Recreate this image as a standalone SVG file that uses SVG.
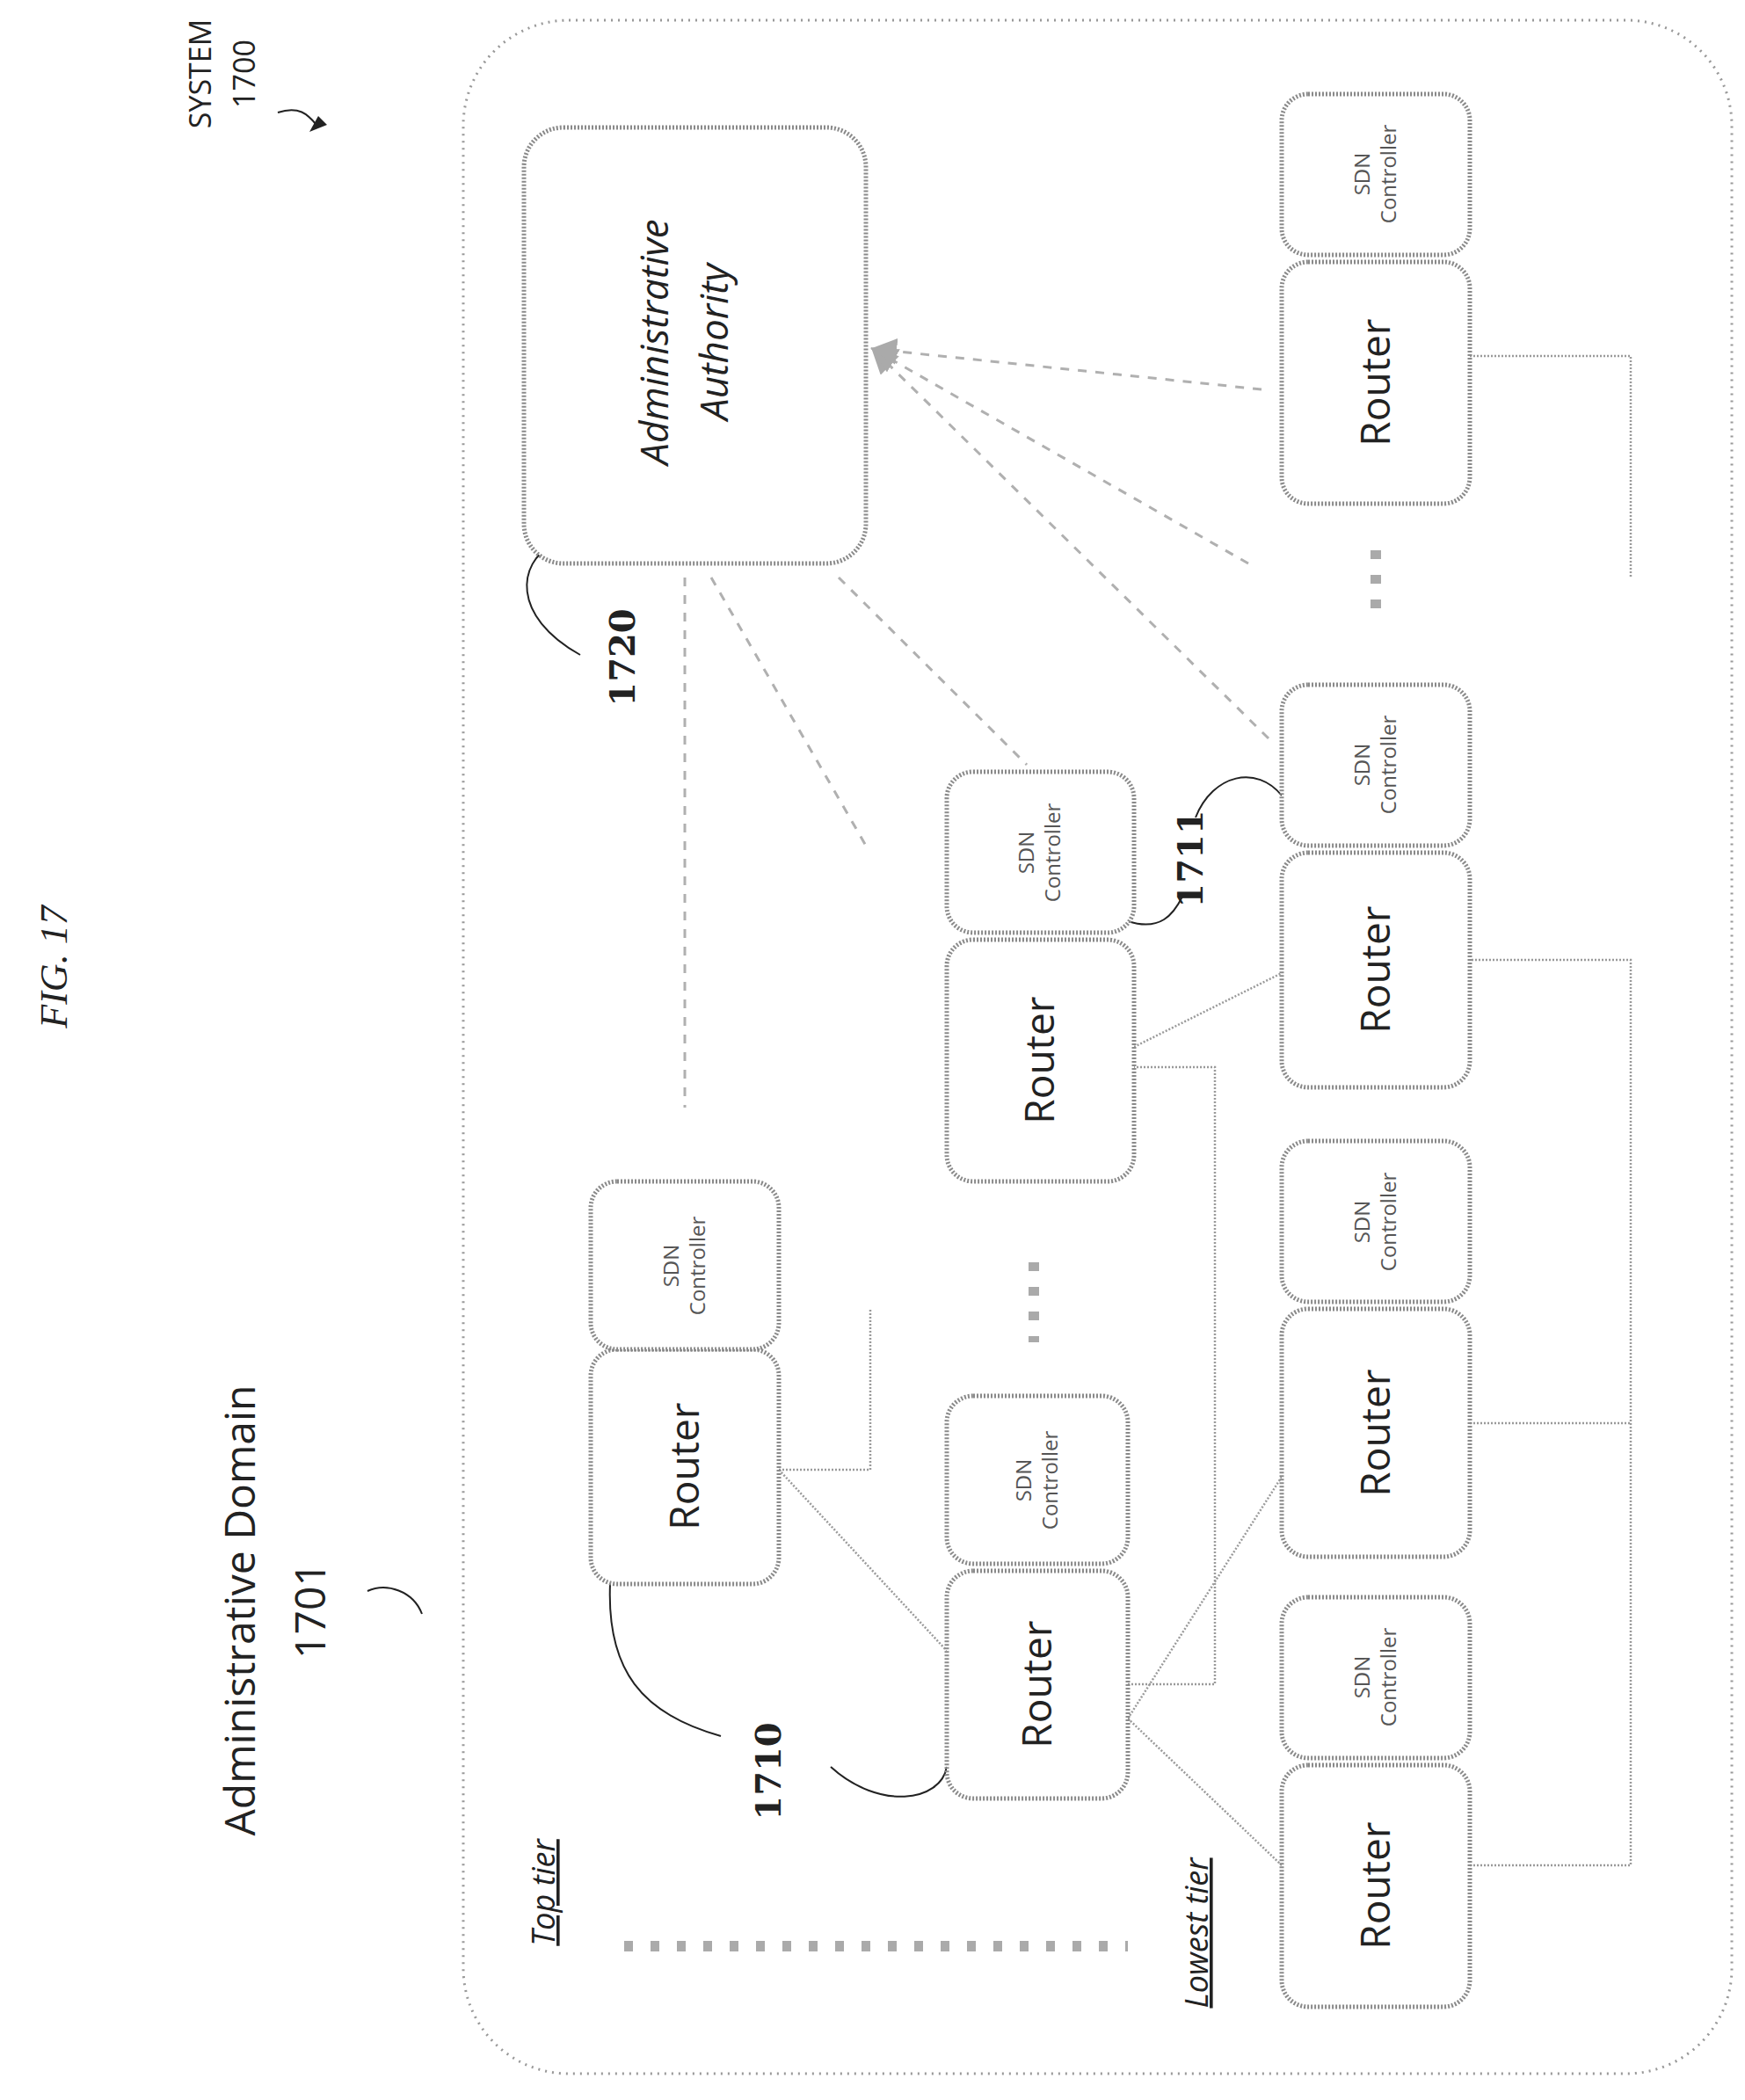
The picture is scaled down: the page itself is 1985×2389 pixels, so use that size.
<svg xmlns="http://www.w3.org/2000/svg" width="1985" height="2389" viewBox="0 0 1985 2389">
<style>
.box{fill:#fff;stroke:#8a8a8a;stroke-width:5;stroke-dasharray:2 2}
.ln{fill:none;stroke:#9a9a9a;stroke-width:2.5;stroke-dasharray:2 2}
.dl{fill:none;stroke:#b0b0b0;stroke-width:3;stroke-dasharray:10 10}
.ld{fill:none;stroke:#222;stroke-width:2}
.t{font-family:"Open Sans","DejaVu Sans",sans-serif;fill:#222;text-anchor:middle}
.r{font-size:46px}
.s{font-size:24px;fill:#555}
.n{font-family:"DejaVu Serif",serif;font-size:40px;font-weight:bold;fill:#222;text-anchor:middle}
</style>
<defs><marker id="ah" markerWidth="10" markerHeight="10" refX="9" refY="5" orient="auto"><path d="M0,0 L10,5 L0,10 z" fill="#aaa"/></marker></defs>
<rect x="527" y="23" width="1443" height="2336" rx="120" fill="none" stroke="#999" stroke-width="3" stroke-dasharray="2 6"/>
<g id="labels">
<text class="t" transform="translate(76,1100) rotate(-90)" style="font-family:'Liberation Serif',serif;font-style:italic;font-size:44px">FIG. 17</text>
<text class="t" transform="translate(240,84) rotate(-90)" font-size="34">SYSTEM</text>
<text class="t" transform="translate(290,84) rotate(-90)" font-size="34">1700</text>
<path class="ld" d="M316,128 C340,120 350,130 360,142"/><path d="M352,150 L372,142 L362,132 z" fill="#222"/>
<text class="t" transform="translate(290,1832) rotate(-90)" font-size="48">Administrative Domain</text>
<text class="t" transform="translate(370,1832) rotate(-90)" font-size="48">1701</text>
<path class="ld" d="M418,1810 C440,1800 470,1810 480,1836"/>
<text class="t" transform="translate(631,2153) rotate(-90)" style="font-style:italic;text-decoration:underline" font-size="36">Top tier</text>
<text class="t" transform="translate(1374,2199) rotate(-90)" style="font-style:italic;text-decoration:underline" font-size="36">Lowest tier</text>
<text class="n" transform="translate(722,748) rotate(-90)">1720</text>
<path class="ld" d="M628,620 C590,640 580,700 660,745"/>
<text class="n" transform="translate(1368,977) rotate(-90)">1711</text>
<path class="ld" d="M1283,1048 C1320,1060 1335,1040 1345,1020"/>
<path class="ld" d="M1360,930 C1380,880 1430,870 1458,905"/>
<text class="n" transform="translate(888,2015) rotate(-90)">1710</text>
<path class="ld" d="M694,1802 C690,1900 730,1950 820,1975"/>
<path class="ld" d="M1077,2010 C1070,2050 1000,2060 945,2010"/>
</g>
<g id="connectors">
<path class="ln" d="M886,1672 H990 V1489"/>
<path class="ln" d="M886,1672 L1077,1878"/>
<path class="ln" d="M1283,1955 L1458,2122"/>
<path class="ln" d="M1283,1955 L1458,1680"/>
<path class="ln" d="M1283,1916 H1382 V1214 H1290"/>
<path class="ln" d="M1290,1191 L1458,1107"/>
<path class="ln" d="M1672,2122 H1855 V1092 H1672"/>
<path class="ln" d="M1672,1619 H1855"/>
<path class="ln" d="M1672,405 H1855 V657"/>
<path class="dl" d="M779,657 V1260"/>
<path class="dl" d="M809,657 L985,962"/>
<path class="dl" d="M954,657 L1168,870"/>
<path class="dl" d="M1443,840 L993,397" marker-end="url(#ah)"/>
<path class="dl" d="M1420,641 L993,397" marker-end="url(#ah)"/>
<path class="dl" d="M1435,443 L993,397" marker-end="url(#ah)"/>
<path d="M1176,1436 V1527" stroke="#aaa" stroke-width="12" stroke-dasharray="10 18"/>
<path d="M1565,626 V702" stroke="#aaa" stroke-width="12" stroke-dasharray="10 18"/>
<path d="M710,2214 H1283" stroke="#aaa" stroke-width="12" stroke-dasharray="10 20"/>
</g>
<g id="admin-authority"><rect class="box" x="596" y="145" width="389" height="496" rx="45"/>
<text class="t" transform="translate(760,389) rotate(-90)" style="font-style:italic" font-size="44">Administrative</text>
<text class="t" transform="translate(828,389) rotate(-90)" style="font-style:italic" font-size="44">Authority</text></g>
<g id="r-top"><rect class="box" x="672" y="1535" width="214" height="267" rx="30"/><text class="t r" transform="translate(795,1668) rotate(-90)">Router</text></g>
<g id="s-top"><rect class="box" x="672" y="1344" width="214" height="191" rx="30"/><text class="t s" transform="translate(772,1440) rotate(-90)">SDN</text><text class="t s" transform="translate(802,1440) rotate(-90)">Controller</text></g>
<g id="r-midl"><rect class="box" x="1077" y="1787" width="206" height="259" rx="30"/><text class="t r" transform="translate(1196,1916) rotate(-90)">Router</text></g>
<g id="s-midl"><rect class="box" x="1077" y="1588" width="206" height="191" rx="30"/><text class="t s" transform="translate(1173,1684) rotate(-90)">SDN</text><text class="t s" transform="translate(1203,1684) rotate(-90)">Controller</text></g>
<g id="r-mid"><rect class="box" x="1077" y="1069" width="213" height="275" rx="30"/><text class="t r" transform="translate(1199,1206) rotate(-90)">Router</text></g>
<g id="s-mid"><rect class="box" x="1077" y="878" width="213" height="183" rx="30"/><text class="t s" transform="translate(1176,970) rotate(-90)">SDN</text><text class="t s" transform="translate(1206,970) rotate(-90)">Controller</text></g>
<g id="r-b1"><rect class="box" x="1458" y="2008" width="214" height="275" rx="30"/><text class="t r" transform="translate(1581,2145) rotate(-90)">Router</text></g>
<g id="s-b1"><rect class="box" x="1458" y="1817" width="214" height="183" rx="30"/><text class="t s" transform="translate(1558,1908) rotate(-90)">SDN</text><text class="t s" transform="translate(1588,1908) rotate(-90)">Controller</text></g>
<g id="r-b2"><rect class="box" x="1458" y="1489" width="214" height="282" rx="30"/><text class="t r" transform="translate(1581,1630) rotate(-90)">Router</text></g>
<g id="s-b2"><rect class="box" x="1458" y="1298" width="214" height="183" rx="30"/><text class="t s" transform="translate(1558,1390) rotate(-90)">SDN</text><text class="t s" transform="translate(1588,1390) rotate(-90)">Controller</text></g>
<g id="r-b3"><rect class="box" x="1458" y="970" width="214" height="267" rx="30"/><text class="t r" transform="translate(1581,1103) rotate(-90)">Router</text></g>
<g id="s-b3"><rect class="box" x="1458" y="779" width="214" height="183" rx="30"/><text class="t s" transform="translate(1558,870) rotate(-90)">SDN</text><text class="t s" transform="translate(1588,870) rotate(-90)">Controller</text></g>
<g id="r-b4"><rect class="box" x="1458" y="298" width="214" height="275" rx="30"/><text class="t r" transform="translate(1581,435) rotate(-90)">Router</text></g>
<g id="s-b4"><rect class="box" x="1458" y="107" width="214" height="183" rx="30"/><text class="t s" transform="translate(1558,198) rotate(-90)">SDN</text><text class="t s" transform="translate(1588,198) rotate(-90)">Controller</text></g>
</svg>
